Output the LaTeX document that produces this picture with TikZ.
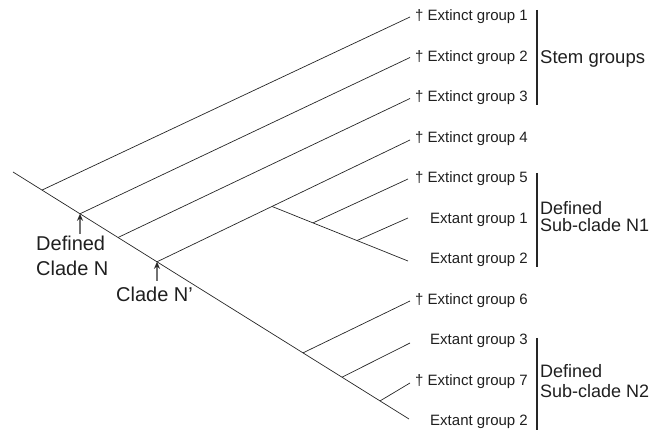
\documentclass[tikz,border=0pt]{standalone}
\usepackage{fontspec}
\setmainfont{Liberation Sans}
\usetikzlibrary{arrows.meta,calc}
\begin{document}
\begin{tikzpicture}[x=1pt,y=-1pt,
  br/.style={line width=0.7pt, draw=black!85},
  bar/.style={line width=1.1pt, draw=black!85},
  lab/.style={anchor=east, inner sep=0pt, font=\fontsize{15}{17}\selectfont, text=black!88},
  big/.style={inner sep=0pt, align=left, text=black!88},
  arr/.style={line width=1.2pt, draw=black!85, -{Stealth[length=7pt,width=6pt]}}]
\useasboundingbox (0,0) rectangle (654,435);

% trunk
\coordinate (root) at (13,172);
\coordinate (tend) at (409,419);
\draw[br] (root) -- (tend);
\coordinate (j1) at ($(root)!0.0732!(tend)$);
\coordinate (j2) at ($(root)!0.1692!(tend)$);
\coordinate (j3) at ($(root)!0.2652!(tend)$);
\coordinate (j4) at ($(root)!0.3636!(tend)$);
\coordinate (j6) at ($(root)!0.7323!(tend)$);
\coordinate (j7) at ($(root)!0.8308!(tend)$);
\coordinate (j8) at ($(root)!0.9268!(tend)$);

% tips
\coordinate (t1) at (410,17);
\coordinate (t2) at (410,57.5);
\coordinate (t3) at (410,98.5);
\coordinate (t4) at (410,140);
\coordinate (t5) at (408,179);
\coordinate (t6) at (408,218);
\coordinate (t7) at (408,261);
\coordinate (t8) at (410,301);
\coordinate (t9) at (410,343);
\coordinate (t10) at (410,383);

% stem branches
\draw[br] (j1) -- (t1);
\draw[br] (j2) -- (t2);
\draw[br] (j3) -- (t3);
\draw[br] (j4) -- (t4);

% sub-clade N1
\coordinate (k) at ($(j4)!0.4545!(t4)$);
\draw[br] (k) -- (t7);
\coordinate (k5) at ($(k)!0.3015!(t7)$);
\coordinate (k6) at ($(k)!0.625!(t7)$);
\draw[br] (k5) -- (t5);
\draw[br] (k6) -- (t6);

% sub-clade N2
\draw[br] (j6) -- (t8);
\draw[br] (j7) -- (t9);
\draw[br] (j8) -- (t10);

% tip labels
\node[lab] (l1) at (528,17) {† Extinct group 1};
\node[lab] (l2) at (528,57.5) {† Extinct group 2};
\node[lab] (l3) at (528,98) {† Extinct group 3};
\node[lab] (l4) at (528,138.5) {† Extinct group 4};
\node[lab] (l5) at (528,179) {† Extinct group 5};
\node[lab] (l6) at (528,219.5) {Extant group 1};
\node[lab] (l7) at (528,260) {Extant group 2};
\node[lab] (l8) at (528,300.5) {† Extinct group 6};
\node[lab] (l9) at (528,341) {Extant group 3};
\node[lab] (l10) at (528,381.5) {† Extinct group 7};
\node[lab] (l11) at (528,422) {Extant group 2};

% bars
\coordinate (s1) at (537,10);
\coordinate (s2) at (537,105);
\coordinate (n1a) at (537,173);
\coordinate (n1b) at (537,267);
\coordinate (n2a) at (537,338);
\coordinate (n2b) at (537,430);
\draw[bar] (s1) -- (s2);
\draw[bar] (n1a) -- (n1b);
\draw[bar] (n2a) -- (n2b);

% group labels
\node[big, anchor=base west, font=\fontsize{18.5}{18.5}\selectfont] (stem) at (540,63.3) {Stem groups};
\node[big, anchor=west, font=\fontsize{18}{17.6}\selectfont] (sc1) at (540,216.7) {Defined\\Sub-clade N1};
\node[big, anchor=west, font=\fontsize{18}{20}\selectfont] (sc2) at (540,380.8) {Defined\\Sub-clade N2};

% clade labels and arrows
\node[big, anchor=west, font=\fontsize{20}{25}\selectfont] (cn) at (36,256) {Defined\\Clade N};
\node[big, anchor=base west, font=\fontsize{20}{25}\selectfont] (cnp) at (116,302) {Clade N’};
\coordinate (a1) at (80,234);
\coordinate (a2) at (157,281);
\draw[arr] (a1) -- (j2);
\draw[arr] (a2) -- (j4);
\end{tikzpicture}
\end{document}
